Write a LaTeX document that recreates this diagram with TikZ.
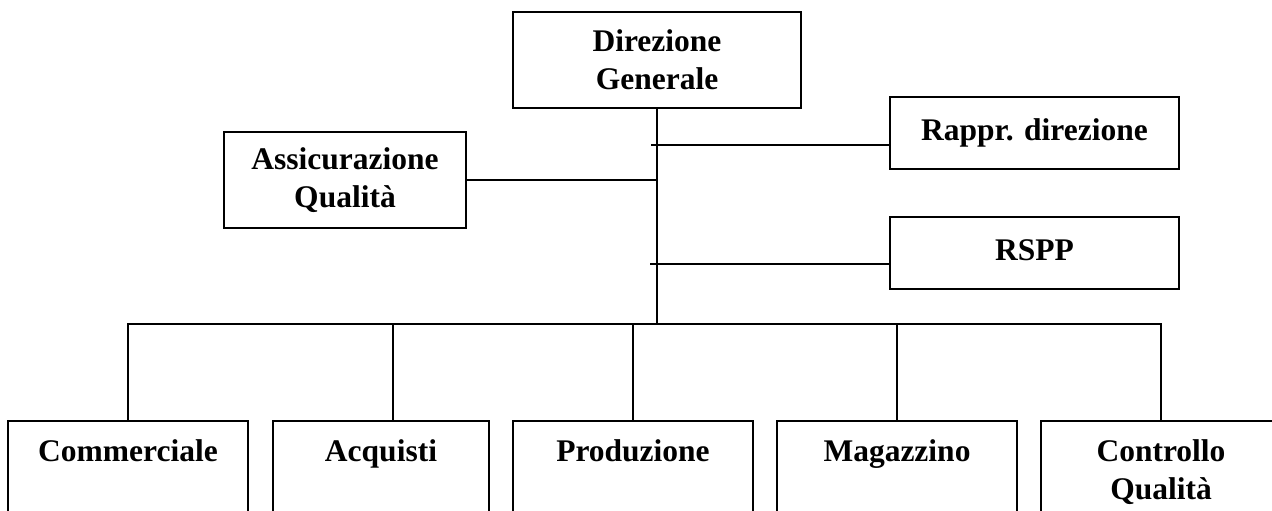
\documentclass[tikz,border=0pt]{standalone}
\usepackage{fontspec}
\setmainfont{Liberation Serif}
\begin{document}
\begin{tikzpicture}[x=1pt,y=1pt,yscale=-1,
  box/.style={draw,line width=1.8pt,rectangle,align=center,inner xsep=0pt,font=\bfseries\fontsize{31.5}{38}\selectfont},
  staff/.style={box,minimum width=289pt,minimum height=72pt,text height=21.5pt,text depth=7pt},
  ufficio/.style={box,anchor=north,minimum width=240pt,inner ysep=19pt,text depth=100pt},
  link/.style={line width=1.8pt}]
\useasboundingbox (0,0) rectangle (1272,511);
% vertici
\node[box,minimum width=288pt,minimum height=96pt] (dg) at (657,60) {Direzione\\Generale};
\node[box,minimum width=242pt,minimum height=96pt] (aq) at (345,180) {Assicurazione\\Qualità};
\node[staff] (rd) at (1034.5,133) {Rappr. direzione};
\node[staff] (rspp) at (1034.5,253) {RSPP};
% uffici
\node[ufficio] (comm) at (128,420) {Commerciale};
\node[ufficio,minimum width=216pt] (acq) at (381,420) {Acquisti};
\node[ufficio] (prod) at (633,420) {Produzione};
\node[ufficio] (mag) at (897,420) {Magazzino};
\node[ufficio] (cq) at (1161,420) {Controllo\\Qualità};
% linee
\coordinate (bus) at (657,324);
\coordinate (trd) at (651,145);
\coordinate (trs) at (650,264);
\coordinate (dacq) at (393,324);
\draw[link] (dg.south) -- (bus);
\draw[link] (aq.east) -- (aq.east -| bus);
\draw[link] (trd) -- (trd -| rd.west);
\draw[link] (trs) -- (trs -| rspp.west);
\draw[link] (comm.north) -- (comm.north |- bus) -- (cq.north |- bus) -- (cq.north);
\draw[link] (dacq) -- (dacq |- acq.north);
\foreach \n in {prod,mag}
  \draw[link] (\n.north |- bus) -- (\n.north);
\end{tikzpicture}
\end{document}
